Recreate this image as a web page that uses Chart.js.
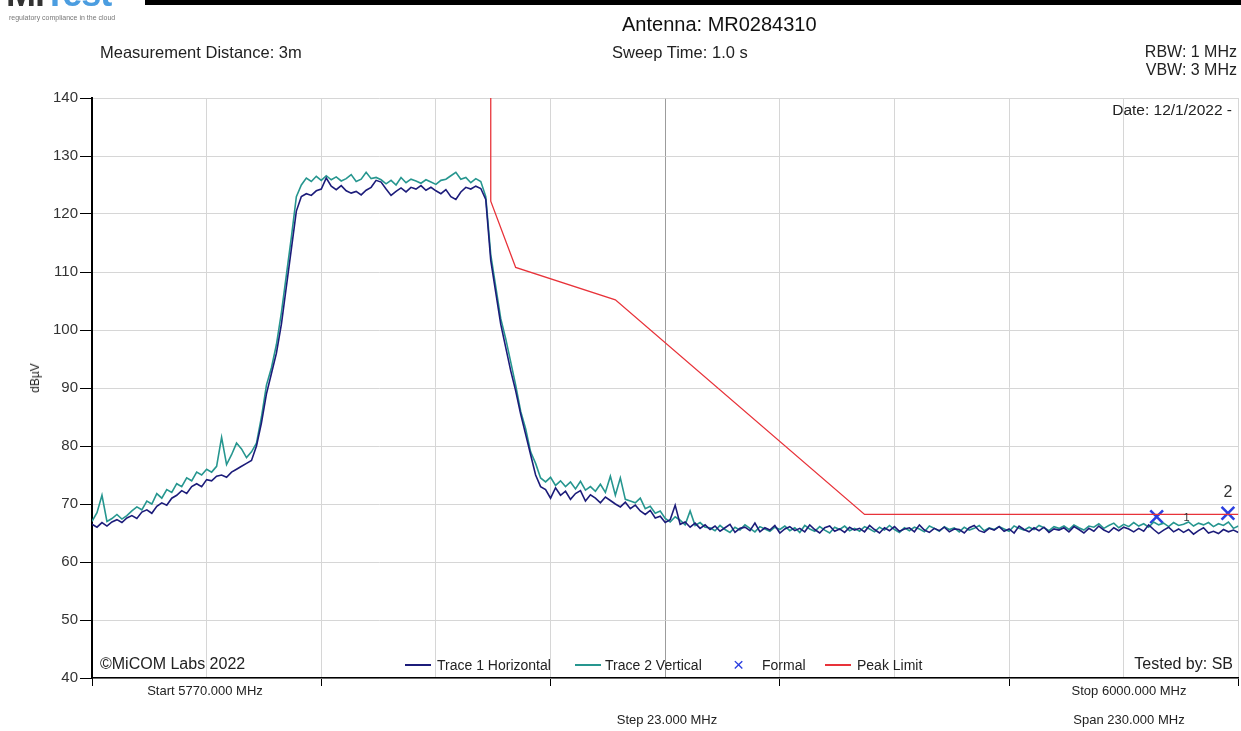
<!DOCTYPE html>
<html>
<head>
<meta charset="utf-8">
<script src="https://cdn.jsdelivr.net/npm/chart.js@4/dist/chart.umd.min.js"></script>
<style>
html,body{margin:0;padding:0;background:#fff;overflow:hidden;}
#wrap{position:relative;width:1241px;height:731px;overflow:hidden;font-family:Arial,"Liberation Sans",sans-serif;color:#222;}
#chart{position:absolute;left:0;top:0;}
.t{position:absolute;white-space:nowrap;line-height:1;}
.c{text-align:center;width:240px;}
.ln{position:absolute;height:2px;width:26px;}
#bar{position:absolute;left:145px;top:0;width:1100px;height:5px;background:#000;}
#logo{position:absolute;left:6px;top:-27px;font-size:36px;font-weight:bold;letter-spacing:-1px;}
#tag{position:absolute;left:9px;top:14px;font-size:7px;color:#777;}
</style>
</head>
<body>
<div id="wrap">
  <canvas id="chart" width="1250" height="731"></canvas>
  <div id="bar"></div>
  <div id="logo"><span style="color:#333">Mi</span><span style="color:#4b9de0">Test</span></div>
  <div id="tag">regulatory compliance in the cloud</div>

  <div class="t" style="left:622px;top:14px;font-size:20px;color:#111">Antenna: MR0284310</div>
  <div class="t" style="left:100px;top:44px;font-size:16.5px">Measurement Distance: 3m</div>
  <div class="t" style="left:612px;top:44px;font-size:16.5px">Sweep Time: 1.0 s</div>
  <div class="t" style="right:4px;top:44px;font-size:16px">RBW: 1 MHz</div>
  <div class="t" style="right:4px;top:62px;font-size:16px">VBW: 3 MHz</div>
  <div class="t" style="right:9px;top:102px;font-size:15.5px">Date: 12/1/2022 -</div>
  <div class="t" style="left:100px;top:656px;font-size:16px">©MiCOM Labs 2022</div>
  <div class="t" style="right:8px;top:656px;font-size:16px">Tested by: SB</div>
  <div class="t c" style="left:85px;top:684px;font-size:13px">Start 5770.000 MHz</div>
  <div class="t c" style="left:1009px;top:684px;font-size:13px">Stop 6000.000 MHz</div>
  <div class="t c" style="left:547px;top:713px;font-size:13px">Step 23.000 MHz</div>
  <div class="t c" style="left:1009px;top:713px;font-size:13px">Span 230.000 MHz</div>
  <div class="t" style="left:35px;top:378px;font-size:12px;transform:translate(-50%,-50%) rotate(-90deg)">dBµV</div>

  <div class="ln" style="left:405px;top:664px;background:#1c1c7a"></div>
  <div class="t" style="left:437px;top:658px;font-size:14px">Trace 1 Horizontal</div>
  <div class="ln" style="left:575px;top:664px;background:#26968f"></div>
  <div class="t" style="left:605px;top:658px;font-size:14px">Trace 2 Vertical</div>
  <div class="t" style="left:733px;top:655px;font-size:19px;color:#2b3fe0">×</div>
  <div class="t" style="left:762px;top:658px;font-size:14px">Formal</div>
  <div class="ln" style="left:825px;top:664px;background:#e8333a"></div>
  <div class="t" style="left:857px;top:658px;font-size:14px">Peak Limit</div>
</div>
<script>
// frequency grid of the sweep (MHz), one point per MHz
const startMHz = 5770, stopMHz = 6000;
const freqMHz = [];
for (let f = startMHz; f <= stopMHz; f++) freqMHz.push(f);

const xTicks = [5770, 5793, 5816, 5839, 5862, 5885, 5908, 5931, 5954, 5977, 6000];
const yTicks = [40, 50, 60, 70, 80, 90, 100, 110, 120, 130, 140];

// Trace 1 Horizontal (dBuV)
const trace1 = [
  66.5, 66.0, 66.8, 66.2, 66.9, 67.3, 66.8, 67.6, 68.0, 67.5, 68.6, 69.0, 68.4, 69.6, 70.2, 69.8, 71.0,
  71.5, 72.3, 71.8, 73.0, 73.5, 73.0, 74.2, 74.0, 74.8, 75.0, 74.6, 75.5, 76.0, 76.5, 77.0, 77.5,
  80.0, 84.0, 89.0, 92.5, 96.0, 101.0, 107.5, 114.0, 120.5,
  123.0, 123.5, 123.2, 124.0, 124.3, 126.2, 124.8, 124.2, 124.9, 124.0, 123.6, 123.9, 123.3, 124.1,
  124.6, 125.8, 125.5, 124.3, 123.2, 123.9, 124.5, 123.8, 124.6, 124.3, 124.9, 124.1, 124.6, 124.0,
  123.5, 124.2, 123.0, 122.5, 123.8, 124.6, 124.3, 124.8, 124.4,
  122.5, 112.0, 106.5, 101.0, 97.0, 93.0, 89.5, 85.5, 82.0, 78.5, 75.0,
  73.0, 72.5, 71.0, 72.8, 71.5, 72.2, 70.8, 71.8, 72.3, 70.5, 71.6, 71.0, 70.2, 71.2, 70.6, 70.0, 69.5,
  70.3, 69.2, 69.8, 68.8, 68.2, 68.9, 67.6, 67.9, 66.8, 67.3, 69.8, 66.5, 66.9, 66.0, 66.7, 65.8, 66.4,
  65.6, 66.2, 65.3, 65.9, 66.5, 65.1, 65.8, 66.0, 65.4, 66.7,
  65.2, 65.9, 65.5, 66.3, 65.0, 65.7, 66.1, 65.4, 65.8, 65.2,
  66.4, 65.6, 65.0, 65.9, 66.2, 65.3, 65.7, 65.1, 66.0, 65.5,
  65.8, 65.2, 66.3, 65.6, 65.0, 65.9, 65.4, 66.1, 65.3, 65.7,
  65.9, 65.2, 66.4, 65.5, 65.1, 65.8, 65.4, 66.0, 65.2, 65.7,
  65.6, 65.0, 65.9, 66.3, 65.4, 65.1, 65.8, 65.5, 66.1, 65.3,
  65.7, 65.0, 66.2, 65.6, 65.2, 65.9, 65.4, 66.0, 65.1, 65.7,
  65.5, 65.9, 65.2, 66.1, 65.6, 65.0, 65.8, 65.3, 66.2, 65.5,
  65.1, 65.9, 65.4, 66.0, 65.7, 65.2, 65.8, 65.3, 66.4, 65.6,
  64.9, 65.5, 66.0, 65.2, 65.7, 65.1, 65.6, 64.8, 65.4, 65.9,
  65.0, 65.3, 64.9, 65.6, 65.2, 65.5, 65.1
];

// Trace 2 Vertical (dBuV)
const trace2 = [
  67.0, 68.5, 71.5, 67.0, 67.5, 68.2, 67.4, 68.0, 68.8, 69.5, 69.0, 70.5, 70.0, 71.8, 71.0, 72.5, 72.0,
  73.5, 73.0, 74.5, 74.0, 75.5, 75.0, 76.0, 75.5, 76.5, 81.5, 76.8, 78.5, 80.5, 79.5, 78.0, 79.0,
  80.5, 85.0, 90.5, 93.5, 97.5, 103.0, 109.5, 116.0, 123.0,
  125.0, 126.2, 125.6, 126.5, 125.8, 126.6, 125.9, 126.4, 125.7, 126.1, 126.8, 125.6, 126.0, 127.2,
  126.1, 126.3, 125.9, 125.2, 125.8, 125.0, 126.3, 125.4, 126.0, 125.7, 125.3, 125.9, 125.5, 125.1,
  125.8, 126.0, 126.6, 127.2, 126.0, 126.3, 125.4, 126.1, 125.6,
  123.0, 113.0, 107.5, 102.0, 98.5, 94.5, 90.5, 86.0, 83.0, 79.0, 77.0,
  74.5, 73.8, 74.6, 73.2, 74.0, 73.0, 73.8, 72.6, 73.9, 72.4, 73.0, 72.2, 73.4, 72.0, 74.8, 71.5, 74.5,
  70.8, 70.5, 70.2, 71.0, 69.2, 69.6, 68.4, 68.8, 67.5, 66.9, 67.8, 67.2, 66.4, 68.8, 66.3, 66.8, 66.0,
  65.9, 65.4, 66.3, 65.6, 65.1, 66.0, 65.5, 66.4, 65.8, 65.2,
  66.1, 65.7, 65.3, 66.0, 65.6, 66.2, 65.4, 65.9, 65.1, 66.3,
  65.7, 65.3, 66.1, 65.5, 65.0, 66.0, 65.6, 66.2, 65.4, 65.8,
  65.3, 66.1, 65.7, 65.2, 66.0, 65.5, 66.3, 65.6, 65.1, 65.9,
  65.4, 66.0, 65.7, 65.2, 66.2, 65.8, 65.3, 66.1, 65.6, 65.9,
  65.2, 66.0, 65.5, 65.8, 66.3, 65.4, 65.9, 65.6, 66.1, 65.7,
  65.3, 66.2, 65.8, 65.5, 66.0, 65.6, 66.3, 65.9, 65.4, 66.1,
  65.8, 66.2, 65.6, 66.4, 65.9, 65.5, 66.2, 66.0, 66.6, 65.8,
  66.3, 66.7, 65.9, 66.5, 66.1, 66.8, 66.2, 66.6, 66.0, 66.9,
  66.4, 66.7, 66.1, 66.8, 66.3, 66.5, 66.9, 66.2, 66.7, 66.4,
  66.8, 66.1, 66.6, 66.3, 66.9, 65.8, 66.2
];

// Peak limit line
const limitFreq = [5850, 5850, 5855, 5875, 5925, 6000];
const limitVals = [140, 122.2, 110.8, 105.2, 68.2, 68.2];

// Formal markers
const markerFreq = [5983.6, 5997.9];
const markerVals = [67.8, 68.4];
const markerNames = ['1', '2'];

const toXY = (xs, ys) => xs.map((x, i) => ({x: x, y: ys[i]}));

const markerLabels = {
    id: 'markerLabels',
    afterDatasetsDraw: function(chart) {
        const ctx = chart.ctx, xs = chart.scales.x, ys = chart.scales.y;
        ctx.save();
        ctx.fillStyle = '#333';
        ctx.textAlign = 'center';
        ctx.textBaseline = 'middle';
        markerFreq.forEach(function(f, i) {
            const px = xs.getPixelForValue(f), py = ys.getPixelForValue(markerVals[i]);
            if (i === 0) {
                ctx.font = '11px Arial';
                ctx.fillText(markerNames[i], px + 30, py + 1);
            } else {
                ctx.font = '16px Arial';
                ctx.fillText(markerNames[i], px, py - 21);
            }
        });
        ctx.restore();
    }
};

new Chart(document.getElementById('chart').getContext('2d'), {
    type: 'line',
    data: {
        datasets: [{
            label: 'Trace 1 Horizontal',
            data: toXY(freqMHz, trace1),
            borderColor: '#1c1c7a',
            borderWidth: 1.6,
            pointRadius: 0,
            tension: 0
        }, {
            label: 'Trace 2 Vertical',
            data: toXY(freqMHz, trace2),
            borderColor: '#26968f',
            borderWidth: 1.6,
            pointRadius: 0,
            tension: 0
        }, {
            label: 'Peak Limit',
            data: toXY(limitFreq, limitVals),
            borderColor: '#e8333a',
            borderWidth: 1.3,
            pointRadius: 0,
            tension: 0
        }, {
            label: 'Formal',
            data: toXY(markerFreq, markerVals),
            showLine: false,
            pointStyle: 'crossRot',
            pointRadius: 9,
            pointBorderWidth: 2.6,
            pointBorderColor: '#2b3fe0',
            borderColor: '#2b3fe0'
        }]
    },
    options: {
        responsive: false,
        animation: false,
        layout: {padding: {left: 0, top: 98, right: 8, bottom: 53}},
        plugins: {legend: {display: false}, title: {display: false}, tooltip: {enabled: false}},
        scales: {
            x: {
                type: 'linear',
                min: startMHz,
                max: stopMHz,
                afterBuildTicks: function(s) { s.ticks = xTicks.map(v => ({value: v})); },
                afterFit: function(s) { s.height = 0; },
                ticks: {display: false},
                grid: {
                    color: c => (c.tick && c.tick.value === 5885) ? '#9c9c9c' : '#d6d6d6',
                    lineWidth: 1,
                    drawTicks: true,
                    tickLength: 8,
                    tickColor: c => (c.index % 2 === 0) ? '#000' : 'rgba(0,0,0,0)'
                },
                border: {color: '#000', width: 1.5}
            },
            y: {
                min: 40,
                max: 140,
                afterBuildTicks: function(s) { s.ticks = yTicks.map(v => ({value: v})); },
                afterFit: function(s) { s.width = 92; },
                ticks: {color: '#333', font: {family: 'Arial', size: 15}, padding: 2},
                grid: {color: '#d6d6d6', lineWidth: 1, tickLength: 12, tickColor: '#000'},
                border: {color: '#000', width: 2}
            }
        }
    },
    plugins: [markerLabels]
});
</script>
</body>
</html>
